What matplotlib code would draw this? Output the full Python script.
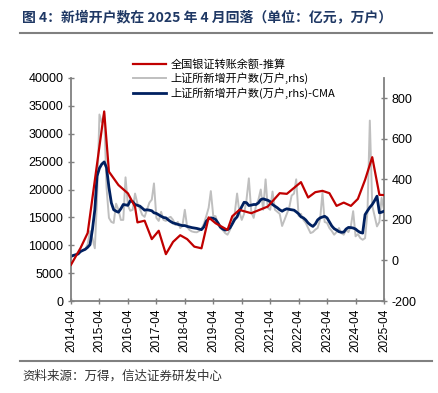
import numpy as np
import pandas as pd
import matplotlib
matplotlib.use("Agg")
import matplotlib.pyplot as plt
from matplotlib.lines import Line2D

plt.rcParams['font.family'] = ['Liberation Sans', 'Noto Sans CJK SC', 'DejaVu Sans']
plt.rcParams['axes.unicode_minus'] = False
cjk = ['Noto Sans CJK SC', 'DejaVu Sans']

# monthly axis, 2014-04 .. 2025-04
months = pd.date_range('2014-04-01', '2025-04-01', freq='MS')

# 上证所新增开户数 (万户), right axis
sse_new = [20, 25, 30, 38, 45, 50, 55, 80, 145, 110, 60, 300,
           720, 680, 725, 360, 210, 190, 185, 280, 250, 200, 200, 410,
           270, 245, 250, 330, 280, 255, 225, 215, 250, 285, 300, 380,
           210, 195, 240, 200, 195, 210, 215, 200, 175, 190, 160, 170,
           250, 165, 150, 143, 140, 139, 145, 156, 180, 218, 260, 342,
           220, 218, 177, 160, 150, 135, 127, 150, 185, 230, 330, 240,
           200, 230, 300, 405, 240, 210, 270, 300, 350, 250, 400, 260,
           250, 340, 250, 240, 230, 170, 200, 230, 260, 320, 330, 400,
           220, 230, 200, 185, 160, 135, 140, 152, 160, 200, 334, 190,
           185, 160, 145, 127, 140, 160, 135, 127, 150, 140, 170, 243,
           119, 130, 110, 102, 110, 240, 690, 270, 220, 168, 190, 309,
           250]

# CMA of the above
sse_cma = [20, 25, 28, 32, 44, 50, 55, 65, 78, 152, 250, 416,
           455, 475, 486, 458, 360, 284, 250, 243, 238, 255, 276, 274,
           272, 295, 290, 276, 272, 268, 258, 248, 250, 248, 245, 235,
           232, 225, 218, 212, 210, 200, 192, 185, 182, 178, 175, 172,
           172, 168, 165, 162, 160, 158, 155, 152, 165, 193, 205, 210,
           208, 202, 185, 165, 155, 150, 152, 160, 180, 202, 215, 243,
           265, 287, 285, 271, 273, 276, 276, 284, 300, 304, 300, 297,
           290, 276, 268, 260, 250, 243, 250, 255, 252, 250, 248, 240,
           230, 215, 210, 200, 185, 175, 168, 180, 200, 210, 214, 218,
           210, 190, 170, 157, 150, 142, 139, 140, 155, 163, 162, 160,
           155, 145, 138, 135, 226, 245, 262, 276, 295, 317, 235, 238,
           243]

# 全国银证转账余额-推算 (亿元), left axis
bank_dates = ['2014-04', '2014-08', '2014-11', '2015-06', '2015-08', '2015-12',
              '2016-04', '2016-07', '2016-08', '2016-11', '2017-02', '2017-05',
              '2017-08', '2017-11', '2018-02', '2018-05', '2018-08', '2018-11',
              '2019-02', '2019-05', '2019-10', '2019-12', '2020-03', '2020-08',
              '2021-03', '2021-08', '2021-11', '2022-05', '2022-08', '2022-11',
              '2023-02', '2023-05', '2023-08', '2023-11', '2024-02', '2024-05',
              '2024-08', '2024-11', '2025-02', '2025-04']
bank_vals = [6500, 9500, 12200, 34000, 23200, 20800,
             19300, 16900, 14100, 14400, 11100, 12600,
             8400, 10600, 11800, 11100, 9750, 9450,
             15000, 13950, 12750, 15200, 16340, 15750,
             16940, 19340, 19220, 21320, 18560, 19520,
             19760, 19340, 17060, 17650, 17060, 18320,
             21730, 25800, 19040, 19000]

xticks = pd.date_range('2014-04-01', '2025-04-01', freq='12MS')
xlabels = [d.strftime('%Y-%m') for d in xticks]

fig = plt.figure(figsize=(4.38, 3.93), dpi=100)
ax = fig.add_axes([71/438, 1-301/393, (384-71)/438, (301-78)/393])
ax2 = ax.twinx()

ax2.plot(months, sse_new, color='#BFBFBF', lw=1.4, zorder=2)
ax2.plot(months, sse_cma, color='#002060', lw=2.0, zorder=3)
ax.plot(pd.to_datetime(bank_dates), bank_vals, color='#C00000', lw=1.6, zorder=4)
ax.set_zorder(ax2.get_zorder() + 1)
ax.patch.set_visible(False)

ax.set_xlim(xticks[0], xticks[-1])
ax.set_ylim(0, 40000)
ax.set_yticks(range(0, 40001, 5000))
ax2.set_ylim(-200, 900)
ax2.set_yticks(range(-200, 801, 200))
ax.set_xticks(xticks)
ax.set_xticklabels(xlabels, rotation=90)

for a in (ax, ax2):
    a.spines['top'].set_visible(False)
    for s in ['left', 'right', 'bottom']:
        a.spines[s].set_color('#808080')
        a.spines[s].set_linewidth(1.3)
    a.tick_params(labelsize=9, colors='black', direction='inout', length=5, width=1, pad=3)
    a.tick_params(axis='both', color='#808080')
ax.tick_params(axis='x', labelsize=8.5)
ax.spines['right'].set_visible(False)
ax2.spines['left'].set_visible(False)
ax2.spines['bottom'].set_visible(False)

# legend
handles = [Line2D([], [], color='#C00000', lw=1.6),
           Line2D([], [], color='#BFBFBF', lw=1.4),
           Line2D([], [], color='#002060', lw=2.0)]
labels = ['全国银证转账余额-推算', '上证所新增开户数(万户,rhs)', '上证所新增开户数(万户,rhs)-CMA']
fig.legend(handles, labels, loc='upper left', bbox_to_anchor=(133/438, 1-59/393),
           frameon=False, prop={'family': cjk, 'size': 8}, handlelength=3.0,
           handletextpad=0.4, labelspacing=0.25, borderpad=0, borderaxespad=0)

# title, rules, source
fig.text(22/438, 1-18/393, '图 4：新增开户数在 2025 年 4 月回落（单位：亿元，万户）',
         family=cjk, fontsize=10, fontweight='bold', color='#1F3864', va='center')
fig.add_artist(Line2D([20/438, 432/438], [1-33/393, 1-33/393], color='#808080', lw=1.5))
fig.add_artist(Line2D([20/438, 432/438], [1-361/393, 1-361/393], color='#808080', lw=1.5))
fig.text(22/438, 1-376/393, '资料来源：万得，信达证券研发中心', family=cjk, fontsize=9,
         style='italic', color='#333333', va='center')

fig.savefig('out.png', dpi=100)
